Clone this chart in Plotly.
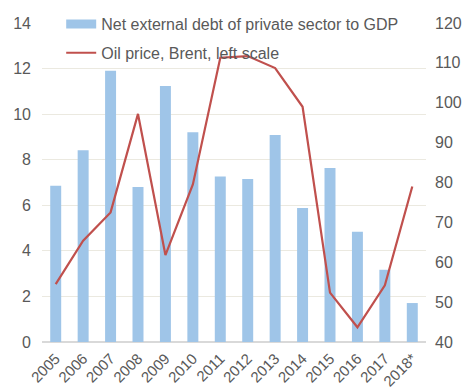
import plotly.graph_objects as go

years = ["2005", "2006", "2007", "2008", "2009", "2010", "2011",
         "2012", "2013", "2014", "2015", "2016", "2017", "2018*"]
net_debt = [6.86, 8.42, 11.9, 6.80, 11.24, 9.21, 7.26,
            7.15, 9.09, 5.88, 7.64, 4.84, 3.17, 1.71]
brent = [54.5, 65.4, 72.5, 97.2, 61.8, 79.5, 111.3,
         111.7, 108.7, 99.0, 52.4, 43.7, 54.2, 79.0]

font_color = "#595959"
grid_color = "#ebe9e0"
bar_color = "#9fc5e8"
line_color = "#c0504d"

fig = go.Figure()
fig.add_trace(go.Bar(
    x=years, y=net_debt, name="Net external debt of private sector to GDP",
    marker=dict(color=bar_color, line=dict(width=0)),
    width=0.4, showlegend=False,
))
# wide flat swatch for the bar series in the legend
fig.add_trace(go.Scatter(
    x=[None], y=[None], name="Net external debt of private sector to GDP",
    mode="lines", line=dict(color=bar_color, width=9), legendgroup="a",
))
fig.add_trace(go.Scatter(
    x=years, y=brent, name="Oil price, Brent, left scale", yaxis="y2",
    mode="lines", line=dict(color=line_color, width=2.2),
    legendgroup="b",
))

fig.update_layout(
    width=469, height=389,
    margin=dict(l=42, r=43, t=23, b=47, autoexpand=False),
    paper_bgcolor="white", plot_bgcolor="white",
    font=dict(family="Liberation Sans, Arial, sans-serif", size=15, color=font_color),
    showlegend=True,
    legend=dict(
        x=0.05, y=1.05, xanchor="left", yanchor="top",
        bgcolor="rgba(0,0,0,0)", font=dict(size=16, color=font_color),
        traceorder="grouped", tracegroupgap=5,
    ),
    xaxis=dict(
        type="category", tickangle=-45, showgrid=False, automargin=False,
        showline=False, ticks="", tickfont=dict(size=15), ticklabelstandoff=4,
    ),
    yaxis=dict(
        range=[0, 14], dtick=2, showgrid=True, gridcolor=grid_color,
        zeroline=True, zerolinecolor="#d9d9d9", zerolinewidth=1.5,
        ticks="", tickfont=dict(size=16), automargin=False,
        ticklabelstandoff=10,
    ),
    yaxis2=dict(
        range=[40, 120], dtick=10, overlaying="y", side="right",
        showgrid=False, zeroline=False, ticks="", tickfont=dict(size=16),
        automargin=False, ticklabelstandoff=8,
    ),
    bargap=0.6,
)

fig.write_html("out.html")
